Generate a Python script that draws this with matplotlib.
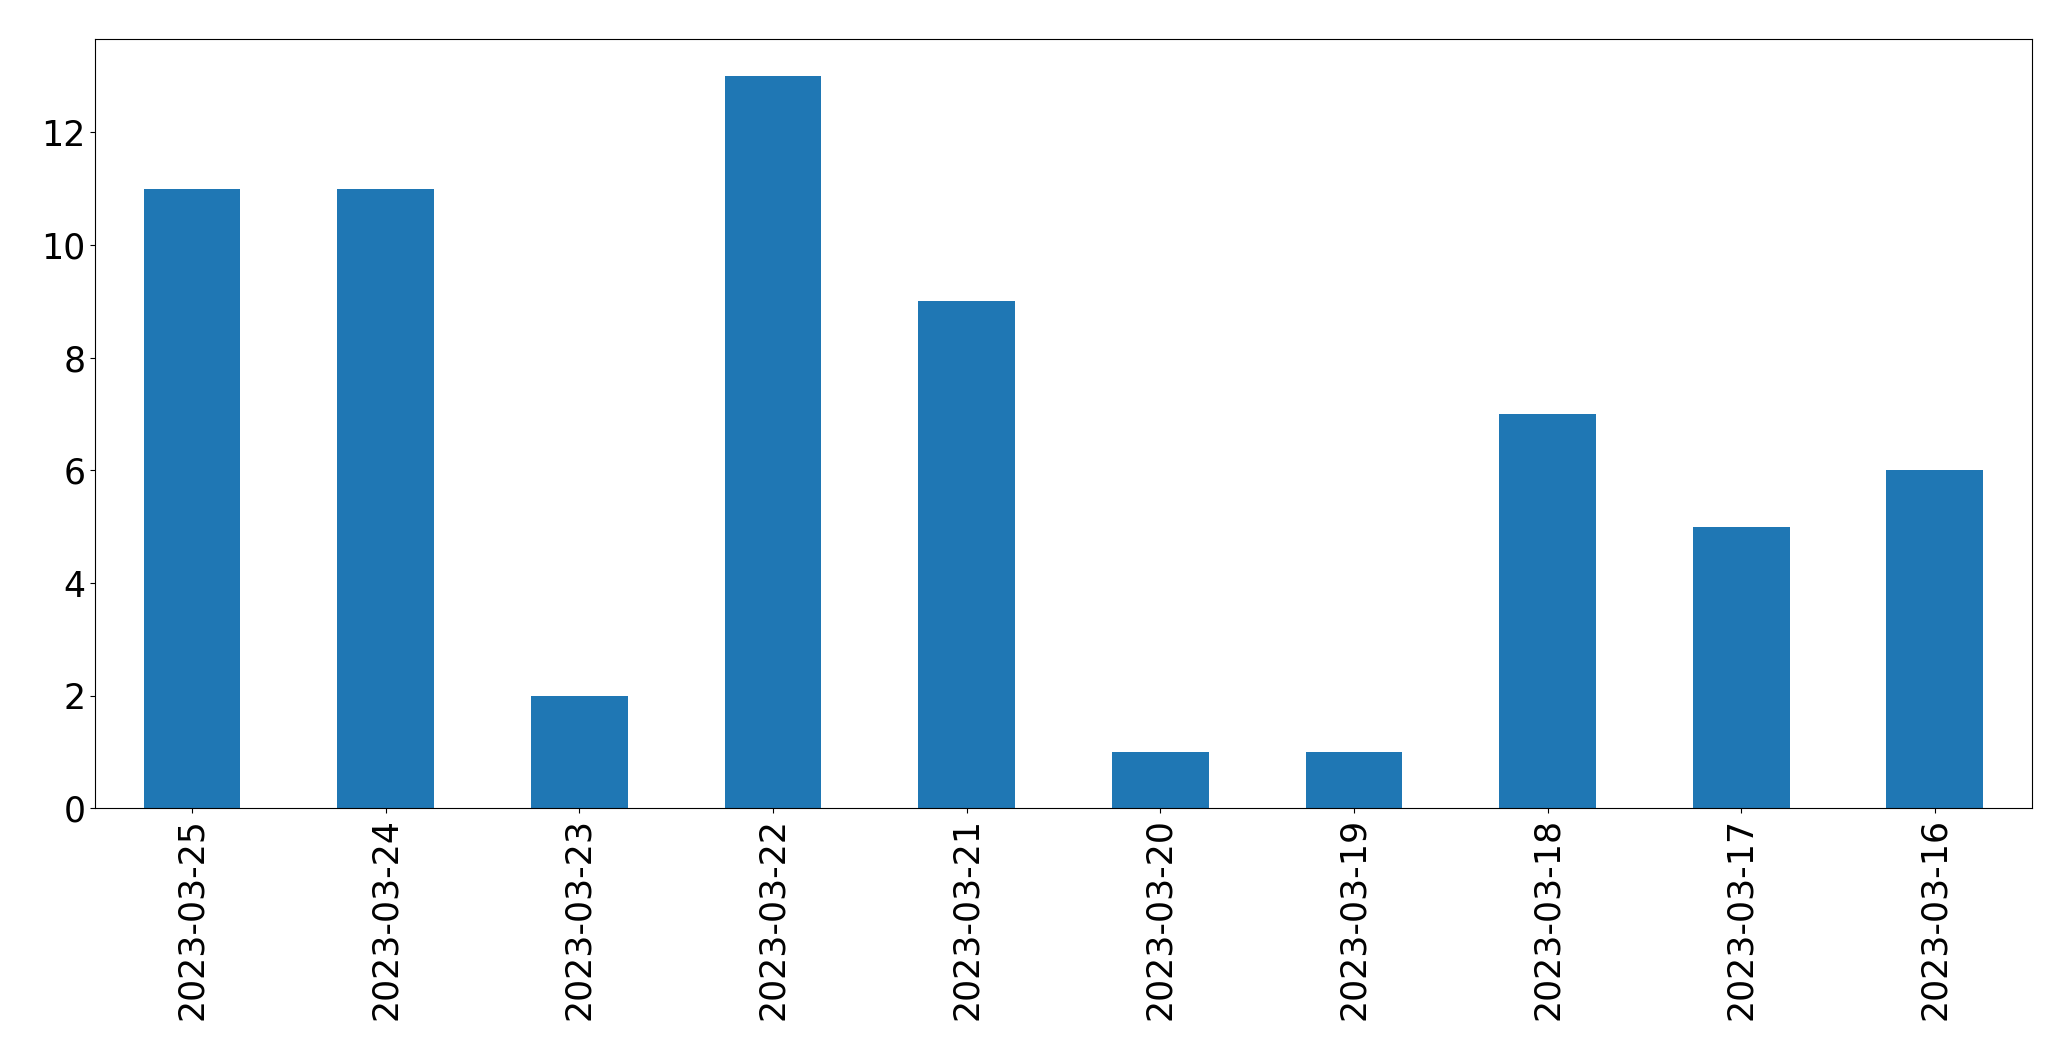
import matplotlib
matplotlib.use("Agg")
import matplotlib.pyplot as plt

dates = ["2023-03-25", "2023-03-24", "2023-03-23", "2023-03-22", "2023-03-21",
         "2023-03-20", "2023-03-19", "2023-03-18", "2023-03-17", "2023-03-16"]
counts = [11, 11, 2, 13, 9, 1, 1, 7, 5, 6]

fig = plt.figure(figsize=(20.71, 10.61), dpi=100)
ax = fig.add_axes([0.046, 0.238, 0.935, 0.725])

x = range(len(dates))
ax.bar(x, counts, width=0.5, color="#1f77b4")
ax.set_xticks(list(x))
ax.set_xticklabels(dates, rotation=90)
ax.set_xlim(-0.5, len(dates) - 0.5)
ax.tick_params(axis="both", labelsize=25)

fig.savefig("out.png", dpi=100)
